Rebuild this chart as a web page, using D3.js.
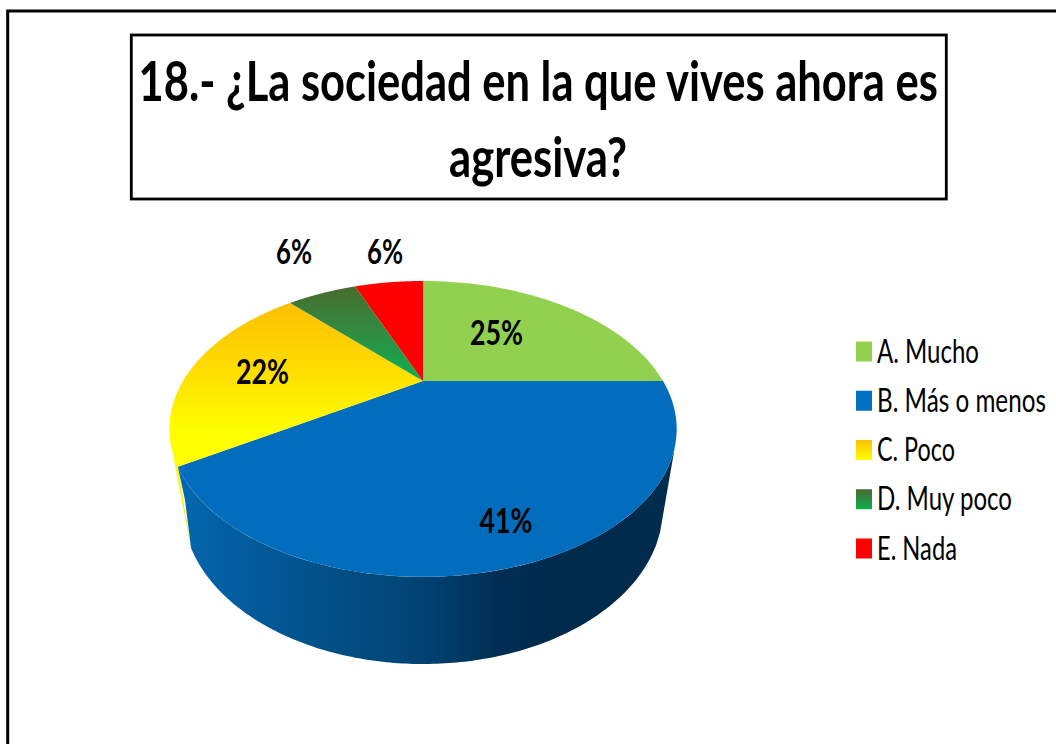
<!DOCTYPE html>
<html><head><meta charset="utf-8">
<script src="https://cdn.jsdelivr.net/npm/d3@7"></script>
<style>html,body{margin:0;padding:0;background:#fff}svg{display:block}text{font-family:Lato,sans-serif;fill:#000}</style>
</head><body><svg id="c" width="1056" height="744"></svg>
<script>
const categories = ["A. Mucho","B. Más o menos","C. Poco","D. Muy poco","E. Nada"];
const values = [25,41,22,6,6];
const labels = ["25%","41%","22%","6%","6%"];
const titleLines = ["18.- ¿La sociedad en la que vives ahora es","agresiva?"];

// layout
const titleLayout = [{x:138.5,w:799.5,y:101},{x:449,w:178,y:177}];
const labelLayout = [{x:470,w:53,y:345},{x:479.5,w:53,y:533},{x:236,w:53,y:384},{x:276,w:36,y:264},{x:367,w:36,y:264}];
const legendWidths = [102,169,78,135,80];
const legendFills = ["#92d050","#0070c0","url(#gC)","url(#gD)","#ff0000"];
const sliceFills = ["#92d050","#036dbd","url(#gY)","url(#gG)","#ff0000"];

const svg = d3.select("#c");
const defs = svg.append("defs");
function grad(id,attrs,stops){
  const g = defs.append("linearGradient").attr("id",id).attr("gradientUnits",attrs.units||"userSpaceOnUse")
    .attr("x1",attrs.x1).attr("y1",attrs.y1).attr("x2",attrs.x2).attr("y2",attrs.y2);
  stops.forEach(s=>g.append("stop").attr("offset",s[0]).attr("stop-color",s[1]));
}
grad("gY",{x1:0,y1:303,x2:0,y2:432},[[0,"#fcbf00"],[.5,"#ffdc00"],[1,"#ffff00"]]);
grad("gG",{x1:0,y1:284,x2:0,y2:381},[[0,"#4a6a2e"],[.45,"#33893f"],[1,"#0eaf50"]]);
grad("gC",{units:"objectBoundingBox",x1:0,y1:0,x2:0,y2:1},[[0,"#fcbf00"],[1,"#ffff00"]]);
grad("gD",{units:"objectBoundingBox",x1:0,y1:0,x2:0,y2:1},[[0,"#4a6a2e"],[1,"#0eaf50"]]);
grad("gW",{x1:178,y1:0,x2:672,y2:0},[[0,"#0568ae"],[.12,"#025c9f"],[.32,"#024f85"],[.5,"#014272"],[.64,"#002f55"],[.76,"#002a4c"],[1,"#012c4e"]]);
grad("gS",{x1:0,y1:447,x2:0,y2:548},[[0,"#ffff00"],[.75,"#f2ee00"],[1,"#d8d400"]]);

// squeeze real text horizontally to a measured width
function fit(sel, xOf, yOf, wOf){
  sel.each(function(d,i){
    const n = this.getComputedTextLength();
    d3.select(this).attr("transform",`translate(${xOf(d,i)},${yOf(d,i)}) scale(${wOf(d,i)/n},1)`);
  });
}

// frame
svg.append("path").attr("d","M7.7,744V11H1056").attr("fill","none").attr("stroke","#000").attr("stroke-width",3);
svg.append("rect").attr("x",131.3).attr("y",35).attr("width",815).attr("height",164)
  .attr("fill","#fff").attr("stroke","#000").attr("stroke-width",2.8);

// title
svg.selectAll("text.t").data(titleLines).join("text").attr("class","t")
  .attr("font-size",55).attr("font-weight",700).text(d=>d)
  .call(fit,(d,i)=>titleLayout[i].x,(d,i)=>titleLayout[i].y,(d,i)=>titleLayout[i].w);

// perspective disc -> screen
const CX=423, CY=381, A=240, B=132.4, K=0.324;
const proj = t => {const u=Math.sin(t), v=Math.cos(t), d=1+K*v; return [CX+A*u/d, CY-B*v/d];};
const pie = d3.pie().sort(null).startAngle(0).endAngle(2*Math.PI);
const arcs = pie(values);
const line = d3.line();
const rim = (a,b,n=90)=>d3.range(n+1).map(i=>proj(a+(b-a)*i/n));

// bottom rim ellipse of the wall
const RX=240, RY=156, YC=508;
const bot = (x0,x1,n=120)=>d3.range(n+1).map(i=>{const x=n?x0+(x1-x0)*i/n:x0, o=(x-CX)/RX; return [x,YC+RY*Math.sqrt(Math.max(0,1-o*o))];});

// yellow sliver behind the blue wall
const yTop = rim(arcs[1].endAngle, arcs[1].endAngle+0.09, 10);
svg.append("path").attr("fill","url(#gS)")
  .attr("d",line([...yTop,...bot(191,191,0)])+"Z");

// blue wall
svg.append("path").attr("fill","url(#gW)")
  .attr("d",line([proj(arcs[1].endAngle),[185,500],...bot(191,660),proj(Math.PI/2+0.42),...rim(Math.PI/2+0.42,arcs[1].endAngle,120)])+"Z");

// top faces
svg.selectAll("path.s").data(arcs).join("path").attr("class","s")
  .attr("fill",(d,i)=>sliceFills[i])
  .attr("d",d=>line([[CX,CY],...rim(d.startAngle,d.endAngle)])+"Z");

// value labels
svg.selectAll("text.v").data(labels).join("text").attr("class","v")
  .attr("font-size",35).attr("font-weight",700).text(d=>d)
  .call(fit,(d,i)=>labelLayout[i].x,(d,i)=>labelLayout[i].y,(d,i)=>labelLayout[i].w);

// legend
const ly = d3.scalePoint().domain(categories).range([351.5,548.5]);
const leg = svg.selectAll("g.l").data(categories).join("g").attr("class","l")
  .attr("transform",d=>`translate(0,${ly(d)})`);
leg.append("rect").attr("x",856).attr("y",-10).attr("width",16).attr("height",20).attr("fill",(d,i)=>legendFills[i]);
leg.append("text").attr("font-size",33).text(d=>d)
  .call(fit,()=>877,()=>11,(d,i)=>legendWidths[i]);
</script></body></html>
